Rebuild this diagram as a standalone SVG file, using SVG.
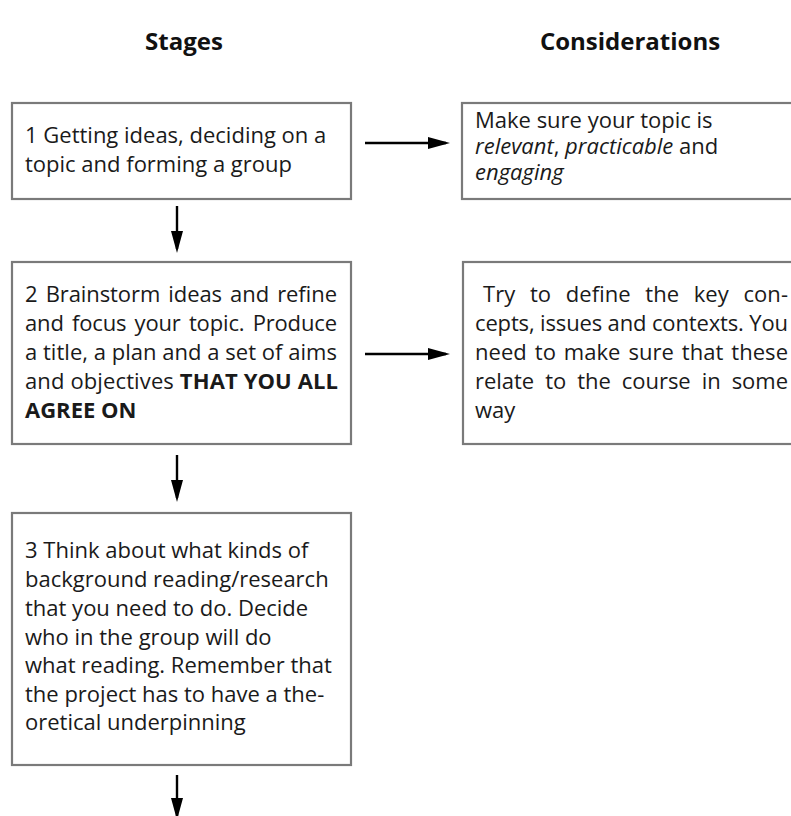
<svg xmlns="http://www.w3.org/2000/svg" width="791" height="816" viewBox="0 0 791 816">
  <style>
    .box { fill: #ffffff; stroke: #7a7a7a; stroke-width: 2.2; }
    .head { font-family: "Open Sans", "Noto Sans", "Liberation Sans", sans-serif; font-weight: bold; font-size: 24px; fill: #111; text-anchor: middle; }
    .txt { font-family: "Open Sans", "Noto Sans", "Liberation Sans", sans-serif; font-size: 22px; fill: #1a1a1a; }
    .b { font-weight: bold; }
    .i { font-style: italic; }
    .conn { stroke: #000; stroke-width: 2.4; fill: none; marker-end: url(#arrow); }
  </style>
  <defs>
    <marker id="arrow" viewBox="0 0 22 12" refX="18" refY="6" markerWidth="22" markerHeight="12" markerUnits="userSpaceOnUse" orient="auto">
      <path d="M0,0 L22,6 L0,12 Z" fill="#000"/>
    </marker>
  </defs>

  <rect width="791" height="816" fill="#ffffff"/>

  <!-- column headings -->
  <text class="head" x="184" y="50">Stages</text>
  <text class="head" x="630" y="50">Considerations</text>

  <!-- stage 1 -->
  <g id="stage1">
    <rect class="box" x="12" y="103" width="339" height="96"/>
    <text class="txt" x="25" y="143">1 Getting ideas, deciding on a</text>
    <text class="txt" x="25" y="172">topic and forming a group</text>
  </g>

  <!-- consideration 1 -->
  <g id="consideration1">
    <rect class="box" x="462" y="103" width="340" height="96"/>
    <text class="txt" x="475" y="128">Make sure your topic is</text>
    <text class="txt" x="475" y="154"><tspan class="i">relevant</tspan>, <tspan class="i">practicable</tspan> and</text>
    <text class="txt" x="475" y="180"><tspan class="i">engaging</tspan></text>
  </g>

  <!-- stage 2 (justified lines) -->
  <g id="stage2">
    <rect class="box" x="12" y="262" width="339" height="182"/>
    <text class="txt" x="25" y="302" word-spacing="2.5" textLength="312" lengthAdjust="spacing">2 Brainstorm ideas and refine</text>
    <text class="txt" x="25" y="331" word-spacing="2.7" textLength="312" lengthAdjust="spacing">and focus your topic. Produce</text>
    <text class="txt" x="25" y="360" textLength="312" lengthAdjust="spacing">a title, a plan and a set of aims</text>
    <text class="txt" x="25" y="389" textLength="313" lengthAdjust="spacing">and objectives <tspan class="b">THAT YOU ALL</tspan></text>
    <text class="txt b" x="25" y="418">AGREE ON</text>
  </g>

  <!-- consideration 2 (justified lines) -->
  <g id="consideration2">
    <rect class="box" x="463" y="262" width="340" height="182"/>
    <text class="txt" x="483" y="302" word-spacing="8.9" textLength="305" lengthAdjust="spacing">Try to define the key con-</text>
    <text class="txt" x="475" y="331" textLength="313" lengthAdjust="spacing">cepts, issues and contexts. You</text>
    <text class="txt" x="475" y="360" word-spacing="2.1" textLength="313" lengthAdjust="spacing">need to make sure that these</text>
    <text class="txt" x="475" y="389" word-spacing="5.3" textLength="313" lengthAdjust="spacing">relate to the course in some</text>
    <text class="txt" x="475" y="418">way</text>
  </g>

  <!-- stage 3 -->
  <g id="stage3">
    <rect class="box" x="12" y="513" width="339" height="252"/>
    <text class="txt" x="25" y="558">3 Think about what kinds of</text>
    <text class="txt" x="25" y="587">background reading/research</text>
    <text class="txt" x="25" y="616">that you need to do. Decide</text>
    <text class="txt" x="25" y="645">who in the group will do</text>
    <text class="txt" x="25" y="673">what reading. Remember that</text>
    <text class="txt" x="25" y="702">the project has to have a the-</text>
    <text class="txt" x="25" y="730">oretical underpinning</text>
  </g>

  <!-- connectors -->
  <g id="connectors">
    <line class="conn" x1="365" y1="143" x2="446" y2="143"/>
    <line class="conn" x1="365" y1="354" x2="446" y2="354"/>
    <line class="conn" x1="177" y1="206" x2="177" y2="249"/>
    <line class="conn" x1="177" y1="455" x2="177" y2="498"/>
    <line class="conn" x1="177" y1="775" x2="177" y2="816"/>
  </g>
</svg>
